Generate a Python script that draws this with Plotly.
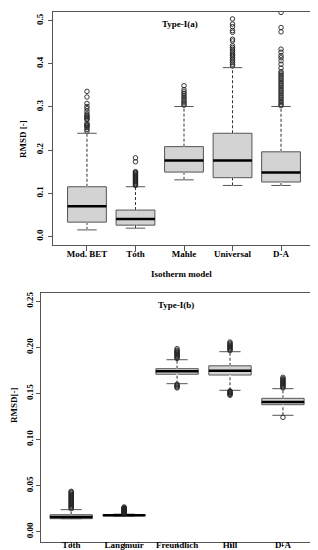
import plotly.graph_objects as go

# ---------------- Data: top panel (Type-I(a)) ----------------
models_a = ["Mod. BET", "Tóth", "Mahle", "Universal", "D-A"]
q1_a = [0.033, 0.026, 0.149, 0.136, 0.126]
med_a = [0.070, 0.040, 0.176, 0.176, 0.148]
q3_a = [0.115, 0.061, 0.208, 0.239, 0.196]
lo_a = [0.015, 0.019, 0.131, 0.118, 0.118]
hi_a = [0.239, 0.115, 0.301, 0.391, 0.301]
out_a = [
    [0.336, 0.323, 0.308, 0.301, 0.296, 0.290, 0.284, 0.281, 0.278, 0.275,
     0.272, 0.270, 0.262, 0.259, 0.257, 0.255, 0.252, 0.248, 0.244],
    [0.182, 0.173, 0.150, 0.148, 0.146, 0.144, 0.142, 0.140, 0.138, 0.136,
     0.134, 0.132, 0.130, 0.128, 0.126, 0.124, 0.122, 0.120, 0.118],
    [0.349, 0.340, 0.335, 0.331, 0.327, 0.323, 0.319, 0.315, 0.311, 0.307, 0.304],
    [0.504, 0.492, 0.486, 0.477, 0.473, 0.457, 0.453, 0.442, 0.438, 0.434,
     0.430, 0.426, 0.422, 0.419, 0.415, 0.411, 0.407, 0.403, 0.399, 0.395],
    [0.519, 0.484, 0.474, 0.434, 0.427, 0.419, 0.414, 0.407, 0.399, 0.390,
     0.382, 0.378, 0.374, 0.370, 0.366, 0.362, 0.358, 0.354, 0.350, 0.346,
     0.342, 0.338, 0.334, 0.330, 0.326, 0.322, 0.318, 0.314, 0.310, 0.306, 0.303],
]

# ---------------- Data: bottom panel (Type-I(b)) ----------------
models_b = ["Tóth", "Langmuir", "Freundlich", "Hill", "D-A"]
q1_b = [0.0141, 0.0172, 0.1708, 0.1700, 0.1378]
med_b = [0.0160, 0.0178, 0.1740, 0.1747, 0.1407]
q3_b = [0.0184, 0.0184, 0.1769, 0.1800, 0.1447]
lo_b = [0.0141, 0.0170, 0.1606, 0.1534, 0.1263]
hi_b = [0.0239, 0.0190, 0.1866, 0.1953, 0.1552]
out_b = [
    [0.0250, 0.0260, 0.0270, 0.0280, 0.0290, 0.0300, 0.0310, 0.0320, 0.0330,
     0.0340, 0.0350, 0.0360, 0.0370, 0.0380, 0.0390, 0.0400, 0.0410, 0.0420,
     0.0430, 0.0438],
    [0.0195, 0.0200, 0.0205, 0.0210, 0.0215, 0.0220, 0.0225, 0.0230, 0.0235,
     0.0240, 0.0245, 0.0250, 0.0255, 0.0260, 0.0268],
    [0.1880, 0.1890, 0.1900, 0.1910, 0.1920, 0.1930, 0.1940, 0.1950, 0.1960,
     0.1970, 0.1986, 0.1600, 0.1590, 0.1580, 0.1570, 0.1560],
    [0.1965, 0.1975, 0.1985, 0.1995, 0.2005, 0.2015, 0.2025, 0.2035, 0.2045,
     0.2058, 0.1528, 0.1520, 0.1512, 0.1505, 0.1497, 0.1490, 0.1480],
    [0.1560, 0.1570, 0.1580, 0.1590, 0.1600, 0.1610, 0.1620, 0.1630, 0.1640,
     0.1650, 0.1660, 0.1675, 0.1241],
]

ticks_a = [0.0, 0.1, 0.2, 0.3, 0.4, 0.5]
ticks_b = [0.00, 0.05, 0.10, 0.15, 0.20, 0.25]
range_a = [-0.02, 0.52]
range_b = [-0.0112, 0.259]

BOX_W = 0.8
EDGE = "#555555"
FONT = "Liberation Serif"

fig = go.Figure()


def add_panel(models, q1, med, q3, lo, hi, outs, xa, ya):
    for i, name in enumerate(models):
        pos = i + 1
        fig.add_trace(go.Box(
            x=[pos], q1=[q1[i]], median=[med[i]], q3=[q3[i]],
            lowerfence=[lo[i]], upperfence=[hi[i]], width=BOX_W,
            whiskerwidth=0.5, fillcolor="#d3d3d3",
            line=dict(color=EDGE, width=1), boxpoints=False,
            xaxis=xa, yaxis=ya, showlegend=False, name=name,
            hoverinfo="skip"))
        # dashed whiskers (white underlay hides the solid box whisker)
        for a, b in ((lo[i], q1[i]), (q3[i], hi[i])):
            fig.add_trace(go.Scatter(
                x=[pos, pos], y=[a, b], mode="lines",
                line=dict(color="white", width=2), xaxis=xa, yaxis=ya,
                showlegend=False, hoverinfo="skip"))
            fig.add_trace(go.Scatter(
                x=[pos, pos], y=[a, b], mode="lines",
                line=dict(color="#333333", width=1, dash="3px,2px"),
                xaxis=xa, yaxis=ya, showlegend=False, hoverinfo="skip"))
        # thick median
        fig.add_trace(go.Scatter(
            x=[pos - BOX_W / 2, pos + BOX_W / 2], y=[med[i], med[i]],
            mode="lines", line=dict(color="black", width=2.5),
            xaxis=xa, yaxis=ya, showlegend=False, hoverinfo="skip"))
        # outliers
        fig.add_trace(go.Scatter(
            x=[pos] * len(outs[i]), y=outs[i], mode="markers",
            marker=dict(symbol="circle-open", size=4.5, color="#222222",
                        line=dict(width=0.9)),
            xaxis=xa, yaxis=ya, showlegend=False, hoverinfo="skip"))


add_panel(models_a, q1_a, med_a, q3_a, lo_a, hi_a, out_a, "x", "y")
add_panel(models_b, q1_b, med_b, q3_b, lo_b, hi_b, out_b, "x2", "y2")

# empty traces so the label-only overlay axes are drawn
fig.add_trace(go.Scatter(x=[None], y=[None], xaxis="x", yaxis="y3",
                         showlegend=False, hoverinfo="skip"))
fig.add_trace(go.Scatter(x=[None], y=[None], xaxis="x2", yaxis="y4",
                         showlegend=False, hoverinfo="skip"))

tickfont = dict(family=FONT, size=9, color="black", weight="bold")
axis_common = dict(
    showline=True, mirror=True, linecolor=EDGE, linewidth=1,
    ticks="outside", tickcolor=EDGE, tickwidth=1,
    showgrid=False, zeroline=False, automargin=False, tickfont=tickfont,
)
label_axis = dict(
    showline=False, ticks="", showgrid=False, zeroline=False,
    automargin=False, tickfont=tickfont, tickangle=-90, anchor="free",
    side="left", tickmode="array",
)

fig.update_layout(
    width=318, height=550,
    margin=dict(l=0, r=0, t=0, b=0),
    paper_bgcolor="white", plot_bgcolor="white",
    font=dict(family=FONT, size=9, color="black", weight="bold"),
    xaxis=dict(domain=[45 / 318, 307 / 318], anchor="y", range=[0.3, 5.7],
               tickmode="array", tickvals=[1, 2, 3, 4, 5], ticktext=models_a,
               ticklen=5, ticklabelstandoff=-5, **axis_common),
    yaxis=dict(domain=[1 - 237 / 550, 1 - 4 / 550], anchor="x",
               range=range_a, tickmode="array", tickvals=ticks_a,
               showticklabels=False, ticklen=4, **axis_common),
    yaxis3=dict(overlaying="y", range=range_a, position=37 / 318,
                tickvals=ticks_a, ticktext=[f"{t:.1f}" for t in ticks_a],
                **label_axis),
    xaxis2=dict(domain=[33 / 318, 312 / 318], anchor="y2", range=[0.43, 5.7],
                tickmode="array", tickvals=[1, 2, 3, 4, 5], ticktext=models_b,
                ticklen=4, ticklabelstandoff=-10, **axis_common),
    yaxis2=dict(domain=[1 - 534 / 550, 1 - 285 / 550], anchor="x2",
                range=range_b, tickmode="array", tickvals=ticks_b,
                showticklabels=False, ticklen=4, **axis_common),
    yaxis4=dict(overlaying="y2", range=range_b, position=27 / 318,
                tickvals=ticks_b, ticktext=[f"{t:.2f}" for t in ticks_b],
                **label_axis),
)

ann_font = dict(family=FONT, size=9, color="black", weight="bold")
ann_common = dict(xref="paper", yref="paper", showarrow=False, font=ann_font,
                  xanchor="center", yanchor="middle")
fig.add_annotation(text="Type-I(a)", x=172 / 318, y=1 - 16 / 550, **ann_common)
fig.add_annotation(text="Type-I(b)", x=168 / 318, y=1 - 297 / 550, **ann_common)
fig.add_annotation(text="Isotherm model", x=173 / 318, y=1 - 266 / 550,
                   **ann_common)
fig.add_annotation(text="RMSD [-]", x=15 / 318, y=1 - 131 / 550, textangle=-90,
                   **ann_common)
fig.add_annotation(text="RMSD[-]", x=6 / 318, y=1 - 397 / 550, textangle=-90,
                   **ann_common)

fig.write_html("out.html")
